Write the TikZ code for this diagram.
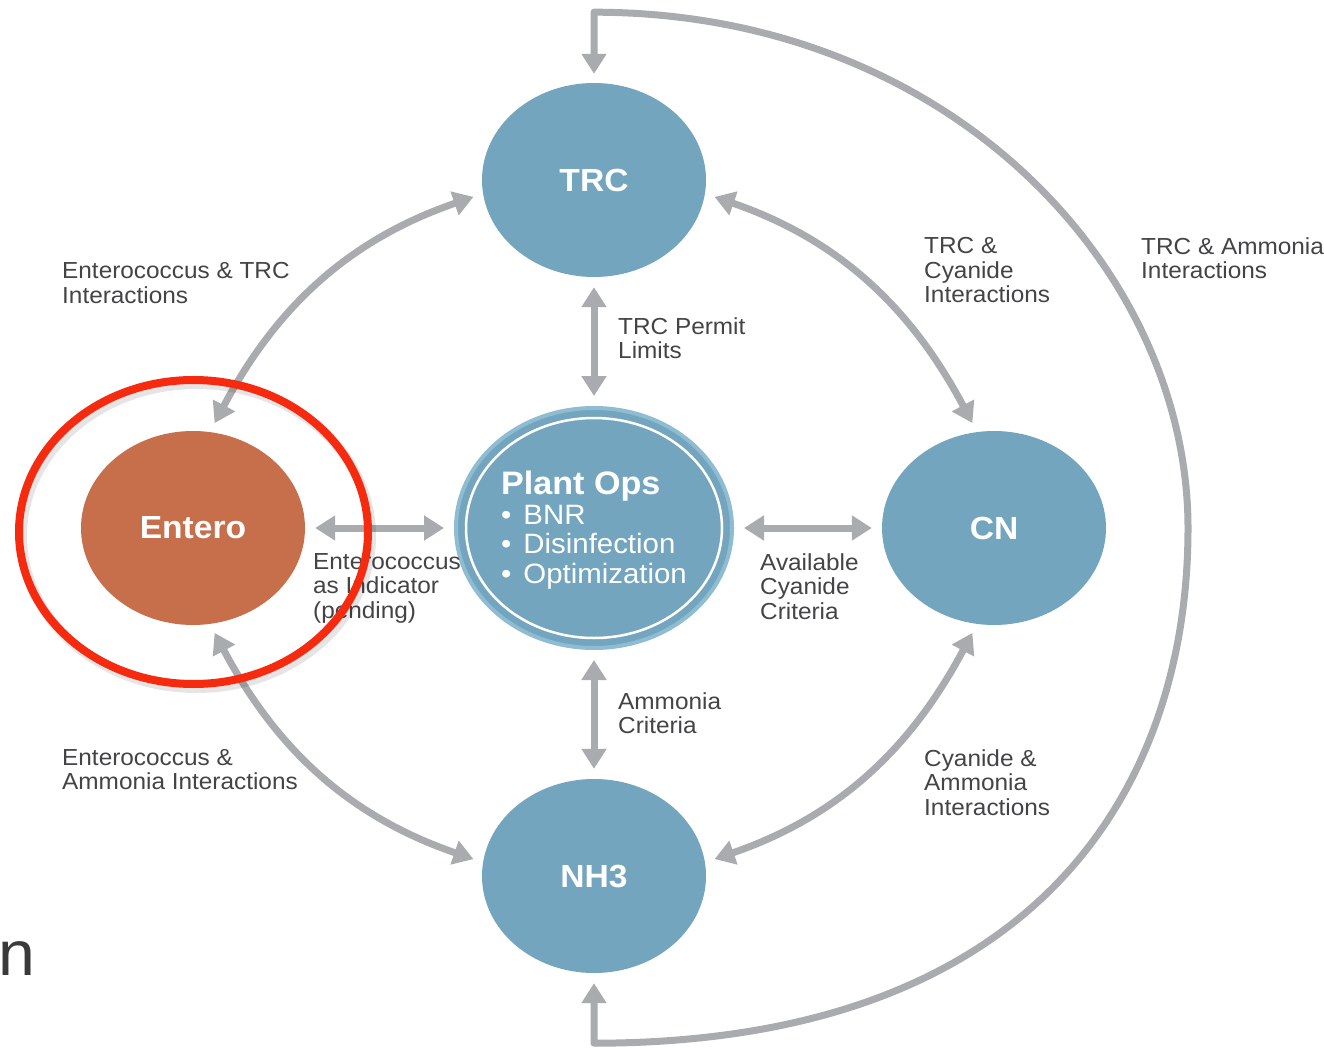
\documentclass[tikz,border=0pt]{standalone}
\usepackage{fontspec}
\setmainfont{Liberation Sans}[FakeStretch=1.05]
\usetikzlibrary{arrows.meta,shapes.geometric}

\definecolor{bubble}{HTML}{74A5BF}
\definecolor{bubbleedge}{HTML}{8EBCD2}
\definecolor{rust}{HTML}{C76E4A}
\definecolor{linkgray}{HTML}{A9ABAE}
\definecolor{ink}{HTML}{444446}
\definecolor{marker}{HTML}{F62A0E}

\begin{document}
\begin{tikzpicture}[x=1pt,y=1pt,
  bubble/.style={ellipse, fill=bubble, inner sep=0pt, minimum width=224pt,
    minimum height=194pt, text=white, font=\fontsize{32}{32}\selectfont\bfseries},
  note/.style={anchor=north west, inner sep=0pt, align=left, text=ink,
    font=\fontsize{23.2}{24.7}\selectfont},
  tip/.tip={Triangle[length=20pt,width=24pt]},
  link/.style={draw=linkgray, line width=7pt, tip-tip, shorten <=10pt, shorten >=10pt},
]
\fill[white] (0,0) rectangle (1324,-1048);
\useasboundingbox (0,0) rectangle (1324,-1048);

% the four parameter bubbles and the central plant-operations bubble
\node[bubble] (trc) at (594,-180) {TRC};
\node[bubble, fill=rust] (entero) at (193,-528) {Entero};
\node[bubble] (cn) at (994,-528) {CN};
\node[bubble] (nh3) at (594,-876) {NH3};

\node[ellipse, fill=bubble, draw=bubbleedge, line width=4pt, inner sep=0pt,
  minimum width=276pt, minimum height=240pt] (plantops) at (594,-528) {};
\node[ellipse, draw=white, line width=2.5pt, inner sep=0pt,
  minimum width=256pt, minimum height=220pt] (ring) at (plantops.center) {};
\node[align=left, text=white, inner sep=0pt,
  font=\fontsize{28}{29.5}\selectfont] (plantopstext) at (594,-530)
  {{\fontsize{32.5}{32.5}\selectfont\bfseries Plant Ops}\\
   •\hspace{12pt}BNR\\
   •\hspace{12pt}Disinfection\\
   •\hspace{12pt}Optimization};

% straight links to the centre
\draw[link] (trc) -- (plantops);
\draw[link] (entero) -- (plantops);
\draw[link] (plantops) -- (cn);
\draw[link] (plantops) -- (nh3);

% curved links between neighbouring bubbles
\draw[link] (entero.80) to[out=62, in=199] (trc.187);
\draw[link] (cn.100) to[out=118, in=-19] (trc.-7);
\draw[link] (entero.-80) to[out=-62, in=161] (nh3.173);
\draw[link] (cn.-100) to[out=-118, in=19] (nh3.7);

% outer loop from NH3 round the right side to TRC
\draw[link, line join=round, shorten >=9pt] (nh3.south) -- ++(0,-70)
  .. controls +(445.5,0) and +(0,-257.5) .. ++(594,515)
  .. controls +(0,258) and +(356.4,0) .. ++(-594,516)
  -- (trc.north);

% link labels
\node[note] (l1) at (62,-262) {Enterococcus \& TRC\\Interactions};
\node[note] (l2) at (924,-237) {TRC \&\\Cyanide\\Interactions};
\node[note] (l3) at (1141,-237) {TRC \& Ammonia\\Interactions};
\node[note] (l4) at (618,-317) {TRC Permit\\Limits};
\node[note] (l5) at (313,-553) {Enterococcus\\as Indicator\\(pending)};
\node[note] (l6) at (760,-553) {Available\\Cyanide\\Criteria};
\node[note] (l7) at (618,-692) {Ammonia\\Criteria};
\node[note] (l8) at (62,-749) {Enterococcus \&\\Ammonia Interactions};
\node[note] (l9) at (924,-749) {Cyanide \&\\Ammonia\\Interactions};

% stray letter at the lower left edge
\node[anchor=base west, inner sep=0pt, text=ink!85!black,
  font=\fontsize{63}{63}\selectfont] (frag) at (-2,-975) {n};

% red highlight ring round Entero
\node[ellipse, draw=black, opacity=0.1, line width=10pt, inner sep=0pt,
  minimum width=349pt, minimum height=304pt] (shade) at (196.5,-536) {};
\node[ellipse, draw=marker, line width=8pt, inner sep=0pt,
  minimum width=349pt, minimum height=304pt] (highlight) at (193.5,-532) {};
\end{tikzpicture}
\end{document}
